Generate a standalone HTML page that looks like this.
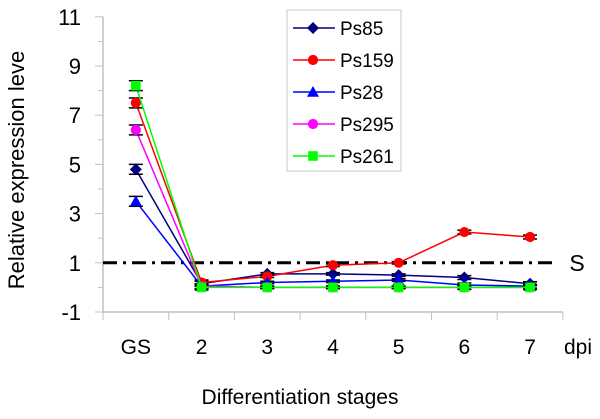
<!DOCTYPE html>
<html><head><meta charset="utf-8"><style>
body{margin:0;background:#fff;}
svg text{font-family:"Liberation Sans",Arial,sans-serif;}
</style></head><body>
<svg id="chart" width="600" height="414" viewBox="0 0 600 414" xmlns="http://www.w3.org/2000/svg">
<g id="axes"></g>
<g id="series"></g>
<g id="legend"></g>
</svg>
<script>
const categories = ["GS","2","3","4","5","6","7"];
const yTicks = [-1,1,3,5,7,9,11];
const thresholdValue = 1;
const ps85 = [4.8,0.15,0.55,0.55,0.5,0.4,0.15];
const ps159 = [7.5,0.2,0.45,0.9,1.0,2.25,2.05];
const ps28 = [3.5,0.05,0.2,0.25,0.3,0.1,0.05];
const ps295 = [6.4,0.05,0.0,0.0,0.0,0.0,0.0];
const ps261 = [8.2,0.0,0.0,0.0,0.0,0.0,0.0];
const errs = [0.2,0.1,0.05,0.05,0.05,0.08,0.08];
const seriesNames = ["Ps85","Ps159","Ps28","Ps295","Ps261"];

const NS="http://www.w3.org/2000/svg";
const X0=103, CW=65.7, Y0=312, YU=24.6;
const x = i => X0 + CW*(i+0.5);
const y = v => Y0 - (v+1)*YU;
function mk(tag, parent, attrs){const e=document.createElementNS(NS,tag);for(const k in attrs)e.setAttribute(k,attrs[k]);parent.appendChild(e);return e;}
const axes=document.getElementById('axes');
let yl=mk('line',axes,{x1:X0,y1:y(11),x2:X0,y2:Y0,stroke:'#c0c0c0','stroke-width':1.5});


for(let v=-1;v<=11;v++){
  const t=mk('line',axes,{x1:X0-(v%2? 8:5),y1:y(v),x2:X0,y2:y(v),stroke:'#c0c0c0','stroke-width':1});
  
  
}
yTicks.forEach(v=>{
  const t=mk('text',axes,{x:X0-22,y:y(v)+8,'text-anchor':'end','font-size':22});
  t.textContent=v;
  
  
});
let xl=mk('line',axes,{x1:X0,y1:Y0,x2:X0+CW*categories.length,y2:Y0,stroke:'#c0c0c0','stroke-width':1.5});


for(let i=0;i<=categories.length;i++){
  const t=mk('line',axes,{x1:X0+CW*i,y1:Y0,x2:X0+CW*i,y2:Y0+8,stroke:'#c0c0c0','stroke-width':1});
  
  
}
categories.forEach((c,i)=>{
  const t=mk('text',axes,{x:x(i),y:354,'text-anchor':'middle','font-size':21});
  t.textContent=c;
  
  
});
let dpi=mk('text',axes,{x:578,y:354,'text-anchor':'middle','font-size':21});dpi.textContent='dpi';


let xt=mk('text',axes,{x:300,y:404,'text-anchor':'middle','font-size':21});xt.textContent='Differentiation stages';


let yt=mk('text',axes,{x:0,y:0,'text-anchor':'middle','font-size':22,transform:'translate(24,170) rotate(-90)'});yt.textContent='Relative expression leve';


let th=mk('line',axes,{x1:X0,y1:y(thresholdValue),x2:558,y2:y(thresholdValue),stroke:'#000','stroke-width':3,'stroke-dasharray':'14 6 3 6'});


let sl=mk('text',axes,{x:577,y:y(thresholdValue)+8,'text-anchor':'middle','font-size':23});sl.textContent='S';



const colors=['#000080','#ff0000','#0000ff','#ff00ff','#00ff00'];
const markers=['diamond','circle','triangle','circle','square'];
const datas=[ps85,ps159,ps28,ps295,ps261];
function marker(g,type,cx,cy,col,s){
  if(type==='diamond') return mk('polygon',g,{points:`${cx},${cy-s} ${cx+s},${cy} ${cx},${cy+s} ${cx-s},${cy}`,fill:col});
  if(type==='circle') return mk('circle',g,{cx:cx,cy:cy,r:s*0.85,fill:col});
  if(type==='triangle') return mk('polygon',g,{points:`${cx},${cy-s} ${cx+s},${cy+s*0.8} ${cx-s},${cy+s*0.8}`,fill:col});
  return mk('rect',g,{x:cx-s*0.8,y:cy-s*0.8,width:s*1.6,height:s*1.6,fill:col});
}
const sg=document.getElementById('series');
datas.forEach((d,si)=>{
  const g=mk('g',sg,{});
  
  
  const pts=d.map((v,i)=>x(i)+','+y(v)).join(' ');
  mk('polyline',g,{points:pts,fill:'none',stroke:colors[si],'stroke-width':1.5});
  d.forEach((v,i)=>{
    const e=errs[i];
    const eb=mk('path',g,{d:`M${x(i)},${y(v+e)}V${y(v-e)}M${x(i)-7},${y(v+e)}H${x(i)+7}M${x(i)-7},${y(v-e)}H${x(i)+7}`,stroke:'#000','stroke-width':1.5,fill:'none'});
    
    
    const m=marker(g,markers[si],x(i),y(v),colors[si],6);
    
    
  });
});
const lg=document.getElementById('legend');
let lb=mk('rect',lg,{x:287,y:10,width:114,height:161,fill:'#fff',stroke:'#c8c8c8'});


seriesNames.forEach((n,si)=>{
  const ly=28+si*32;
  const g=mk('g',lg,{});
  
  
  mk('line',g,{x1:293,y1:ly,x2:335,y2:ly,stroke:colors[si],'stroke-width':1.5});
  marker(g,markers[si],313,ly,colors[si],6);
  const t=mk('text',g,{x:340,y:ly+7,'font-size':19});t.textContent=n;
});
</script>
</body></html>
